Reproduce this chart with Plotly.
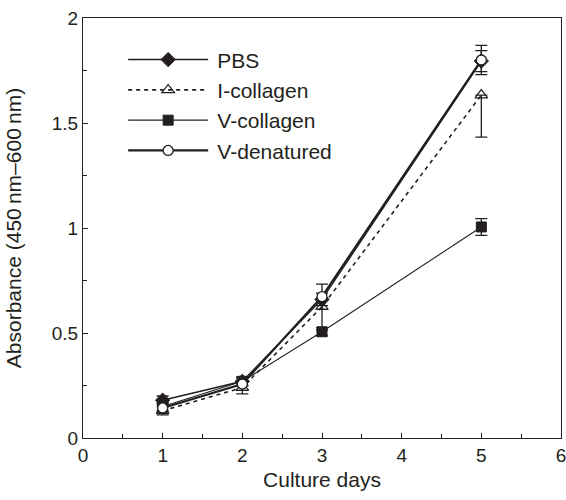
import plotly.graph_objects as go

days = [1, 2, 3, 5]
series_names = ["PBS", "I-collagen", "V-collagen", "V-denatured"]
pbs = [0.18, 0.27, 0.66, 1.795]
i_collagen = [0.13, 0.24, 0.625, 1.633]
v_collagen = [0.15, 0.27, 0.506, 1.005]
v_denatured = [0.143, 0.257, 0.673, 1.80]
pbs_err = [0.02, 0.02, 0.03, 0.05]
i_collagen_err_plus = [0.02, 0.03, 0.04, 0.0]
i_collagen_err_minus = [0.02, 0.03, 0.11, 0.2]
v_collagen_err = [0.02, 0.02, 0.02, 0.04]
v_denatured_err = [0.02, 0.03, 0.06, 0.07]
x_ticks = [0, 1, 2, 3, 4, 5, 6]
y_ticks = [0, 0.5, 1, 1.5, 2]
y_tick_labels = ["0", "0.5", "1", "1.5", "2"]

ink = "#231f20"
font = "Liberation Sans, Arial, Helvetica, sans-serif"

styles = [
    dict(values=pbs, err=pbs_err, errm=pbs_err, dash="solid", width=1.4,
         marker=dict(symbol="diamond", size=11, color=ink, line=dict(color=ink, width=1))),
    dict(values=i_collagen, err=i_collagen_err_plus, errm=i_collagen_err_minus, dash="4px,4px", width=1.6,
         marker=dict(symbol="triangle-up-open", size=11, color=ink, line=dict(color=ink, width=1.2))),
    dict(values=v_collagen, err=v_collagen_err, errm=v_collagen_err, dash="solid", width=1.1,
         marker=dict(symbol="square", size=10, color=ink, line=dict(color=ink, width=1))),
    dict(values=v_denatured, err=v_denatured_err, errm=v_denatured_err, dash="solid", width=2.2,
         marker=dict(symbol="circle", size=10, color="white", line=dict(color=ink, width=1.3))),
]

fig = go.Figure()
for name, st in zip(series_names, styles):
    fig.add_trace(go.Scatter(
        x=days, y=st["values"], name="\u2009" + name, mode="lines+markers",
        line=dict(color=ink, width=st["width"], dash=st["dash"]),
        marker=st["marker"],
        error_y=dict(type="data", array=st["err"], arrayminus=st["errm"],
                     symmetric=False, visible=True,
                     color=ink, thickness=1.3, width=6),
    ))

axis_common = dict(
    showline=True, linecolor=ink, linewidth=1.3, mirror=True,
    ticks="inside", ticklen=5, tickwidth=1.2, tickcolor=ink,
    showgrid=False, zeroline=False, ticklabeloverflow="allow",
    tickfont=dict(family=font, size=19, color=ink),
)

fig.update_xaxes(
    range=[0, 6], tickvals=x_ticks,
    minor=dict(ticks="inside", ticklen=4, tickwidth=1, tickcolor=ink, dtick=0.5, tick0=0),
    title=dict(text="Culture days", font=dict(family=font, size=21, color=ink), standoff=7),
    **axis_common,
)
fig.update_yaxes(
    range=[0, 2], tickvals=y_ticks, ticktext=y_tick_labels,
    minor=dict(ticks="inside", ticklen=4, tickwidth=1, tickcolor=ink, dtick=0.25, tick0=0),
    title=dict(text="Absorbance (450\u2009nm\u2013600\u2009nm)", font=dict(family=font, size=21, color=ink), standoff=24),
    **axis_common,
)

fig.update_layout(
    width=566, height=500,
    margin=dict(l=83, r=5, t=18, b=62, autoexpand=False),
    paper_bgcolor="white", plot_bgcolor="white",
    showlegend=True,
    legend=dict(x=0.084, y=0.949, xanchor="left", yanchor="top",
                bgcolor="rgba(0,0,0,0)", itemwidth=80,
                font=dict(family=font, size=21, color=ink),
                tracegroupgap=0),
)

fig.write_html("out.html", config={"displayModeBar": False},
               post_script="document.body.style.margin='0';")
